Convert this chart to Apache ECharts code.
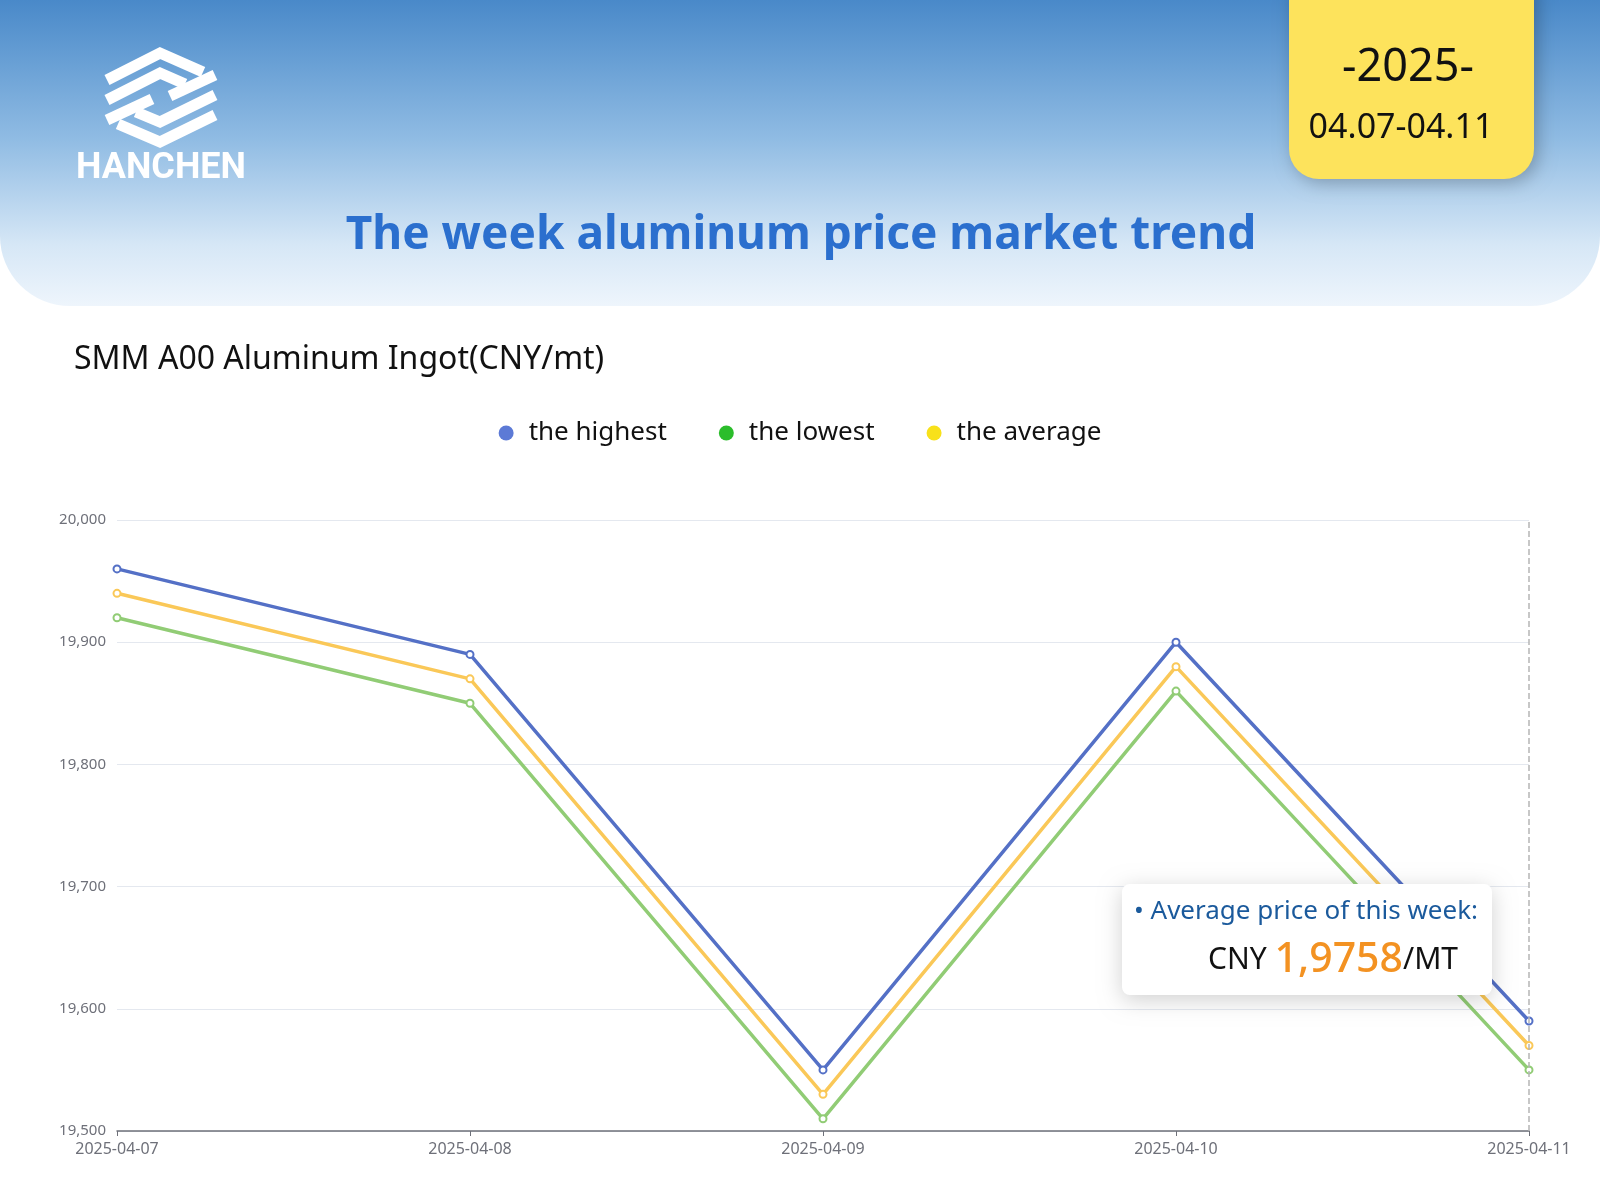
<!DOCTYPE html>
<html>
<head>
<meta charset="utf-8">
<script src="https://cdn.jsdelivr.net/npm/echarts@6/dist/echarts.min.js"></script>
<style>
  html, body { margin: 0; padding: 0; background: #fff; }
  #main { width: 1600px; height: 1200px; }
</style>
</head>
<body>
<div id="main"></div>
<script>
// chart values
const dates = ['2025-04-07', '2025-04-08', '2025-04-09', '2025-04-10', '2025-04-11'];
const highest = [19960, 19890, 19550, 19900, 19590];
const lowest = [19920, 19850, 19510, 19860, 19550];
const average = [19940, 19870, 19530, 19880, 19570];
const seriesNames = ['the highest', 'the lowest', 'the average'];
const yMin = 19500;
const yMax = 20000;
const yStep = 100;

const font = '"Noto Sans", "Open Sans", sans-serif';

// logo stripes (decoration)
const logoLines = [
  [[107, 80], [160, 53], [203, 72]],
  [[107, 100], [160, 73], [185, 84]],
  [[107, 120], [152, 99]],
  [[215, 115], [160, 142], [118, 124]],
  [[215, 95], [160, 122], [136, 112]],
  [[215, 75], [170, 96]]
];

const myChart = echarts.init(document.getElementById('main'));

const graphics = [
  {
    type: 'rect', z: 0,
    shape: { x: 0, y: 0, width: 1600, height: 306, r: [0, 0, 70, 70] },
    style: {
      fill: new echarts.graphic.LinearGradient(0, 0, 0, 1, [
        { offset: 0, color: '#4989c9' },
        { offset: 0.45, color: '#8fbbe3' },
        { offset: 0.8, color: '#d6e7f6' },
        { offset: 1, color: '#eef5fc' }
      ])
    }
  },
  {
    type: 'rect', z: 2,
    shape: { x: 1289, y: -30, width: 245, height: 209, r: 30 },
    style: {
      fill: '#fde35c',
      shadowBlur: 18, shadowColor: 'rgba(0,0,0,0.25)', shadowOffsetX: 4, shadowOffsetY: 4
    }
  },
  {
    type: 'text', z: 3, x: 1408, y: 68,
    style: { text: '-2025-', font: '45px ' + font, fill: '#111', textAlign: 'center', textVerticalAlign: 'middle' }
  },
  {
    type: 'text', z: 3, x: 1401, y: 128,
    style: { text: '04.07-04.11', font: '34px ' + font, fill: '#111', textAlign: 'center', textVerticalAlign: 'middle' }
  },
  {
    type: 'text', z: 3, x: 161, y: 169,
    style: { text: 'HANCHEN', font: 'bold 36px Roboto, sans-serif', fill: '#fff', textAlign: 'center', textVerticalAlign: 'middle' }
  },
  {
    type: 'text', z: 3, x: 801, y: 236,
    style: { text: 'The week aluminum price market trend', font: 'bold 46px ' + font, fill: '#2b6fce', textAlign: 'center', textVerticalAlign: 'middle' }
  },
  {
    type: 'text', z: 3, x: 74, y: 360,
    style: { text: 'SMM A00 Aluminum Ingot(CNY/mt)', font: '32px ' + font, fill: '#111', textAlign: 'left', textVerticalAlign: 'middle' }
  },
  {
    type: 'rect', z: 100,
    shape: { x: 1122, y: 884, width: 370, height: 111, r: 8 },
    style: { fill: '#fff', shadowBlur: 22, shadowColor: 'rgba(0,0,0,0.18)', shadowOffsetY: 5 }
  },
  {
    type: 'text', z: 101, x: 1134, y: 912,
    style: { text: '• Average price of this week:', font: '26px ' + font, fill: '#1b5a9c', textAlign: 'left', textVerticalAlign: 'middle' }
  },
  {
    type: 'text', z: 101, x: 1208, y: 960,
    style: {
      text: '{a|CNY }{b|1,9758}{a|/MT}',
      textVerticalAlign: 'middle',
      rich: {
        a: { fontSize: 30, fontFamily: font, fill: '#111' },
        b: { fontSize: 41, fontFamily: font, fontWeight: 500, fill: '#f39222' }
      }
    }
  }
];

for (const pts of logoLines) {
  graphics.push({
    type: 'polyline', z: 3,
    shape: { points: pts },
    style: { stroke: '#fff', lineWidth: 11, fill: null, lineJoin: 'miter' }
  });
}

const colors = ['#5470c6', '#91cc75', '#fac858'];
const legendColors = ['#5c7ad6', '#2bbd2b', '#f8e11a'];
const values = [highest, lowest, average];

const series = seriesNames.map((name, i) => ({
  name: name,
  type: 'line',
  data: values[i],
  symbol: 'emptyCircle',
  symbolSize: 7,
  lineStyle: { width: 3.5, color: colors[i] },
  itemStyle: { color: colors[i], borderWidth: 2 },
  markLine: i === 0 ? {
    silent: true,
    symbol: 'none',
    label: { show: false },
    lineStyle: { type: 'dashed', color: '#b5b5b5', width: 1.5 },
    data: [{ xAxis: dates[dates.length - 1] }]
  } : undefined
}));

const option = {
  animation: false,
  legend: {
    top: 415,
    left: 'center',
    icon: 'circle',
    itemWidth: 15,
    itemHeight: 15,
    itemGap: 52,
    textStyle: { fontSize: 26, fontFamily: font, color: '#111', padding: [0, 0, 0, 10] },
    data: seriesNames.map((name, i) => ({ name: name, itemStyle: { color: legendColors[i] } }))
  },
  grid: { left: 117, right: 71, top: 520, bottom: 69 },
  xAxis: {
    type: 'category',
    boundaryGap: false,
    data: dates,
    axisLine: { lineStyle: { color: '#6e7079', width: 1.5 } },
    axisTick: { alignWithLabel: true },
    axisLabel: { fontSize: 16, fontFamily: font, color: '#6e7079', margin: 10 }
  },
  yAxis: {
    type: 'value',
    min: yMin,
    max: yMax,
    interval: yStep,
    axisLabel: { fontSize: 15, fontFamily: font, color: '#6e7079', margin: 11 },
    splitLine: { lineStyle: { color: '#e4e8ef' } }
  },
  series: series,
  graphic: graphics
};

myChart.setOption(option);
</script>
</body>
</html>
